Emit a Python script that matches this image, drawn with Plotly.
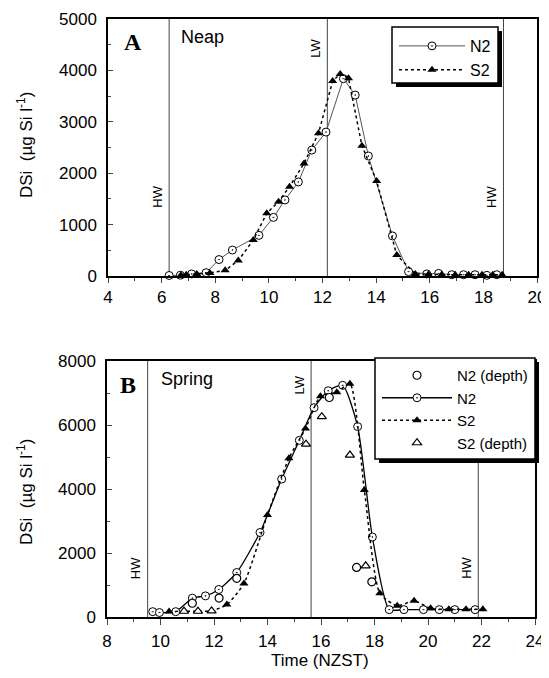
import plotly.graph_objects as go

# ---------------- Panel A (Neap) ----------------
a_n2_t = [6.28, 6.70, 7.12, 7.66, 8.14, 8.64, 9.63, 10.17, 10.60, 11.10, 11.60, 12.13,
          12.78, 13.22, 13.71, 14.61, 15.21, 15.89, 16.33, 16.82, 17.26, 17.69, 18.13, 18.50]
a_n2_y = [10, 15, 40, 65, 320, 505, 790, 1140, 1480, 1830, 2450, 2800,
          3840, 3520, 2335, 780, 85, 40, 50, 25, 25, 25, 13, 25]
a_s2_t = [6.72, 6.92, 7.31, 7.80, 8.37, 8.86, 9.42, 9.92, 10.36, 10.77, 11.31, 11.85,
          12.38, 12.66, 12.97, 13.47, 14.02, 14.77, 15.46, 15.95, 16.45, 16.95, 17.45,
          17.95, 18.35, 18.70]
a_s2_y = [15, 25, 40, 60, 110, 300, 700, 1220, 1446, 1738, 2190, 2776,
          3794, 3930, 3846, 2536, 1848, 408, 40, 30, 30, 25, 25, 25, 25, 25]
a_tide_t = [6.28, 12.18, 18.75]
a_tide_lbl = ["HW", "LW", "HW"]

# ---------------- Panel B (Spring) ----------------
b_n2_t = [9.71, 9.96, 10.57, 11.19, 11.68, 12.18, 12.85, 13.72, 14.53, 15.19, 15.74, 16.27,
          16.81, 17.37, 17.92, 18.55, 19.10, 19.83, 20.42, 21.00, 21.76]
b_n2_y = [167, 140, 167, 590, 660, 860, 1390, 2640, 4310, 5520, 6540, 7070,
          7240, 5950, 2500, 230, 230, 230, 230, 230, 230]
b_n2d_t = [11.19, 12.19, 12.85, 16.31, 17.33, 17.90]
b_n2d_y = [430, 590, 1210, 6860, 1550, 1100]
b_s2_t = [10.32, 10.88, 11.40, 11.91, 12.48, 13.12, 14.00, 14.80, 15.42, 15.98, 16.59, 17.08,
          17.62, 18.20, 18.85, 19.48, 20.10, 20.78, 21.42, 22.05]
b_s2_y = [170, 180, 180, 190, 390, 1050, 3190, 4960, 5890, 6900, 7020, 7290,
          3970, 740, 350, 505, 270, 240, 240, 240]
b_s2d_t = [10.88, 11.40, 11.91, 15.44, 16.03, 17.08, 17.67]
b_s2d_y = [180, 180, 190, 5400, 6260, 5060, 1600]
b_tide_t = [9.52, 15.63, 21.88]
b_tide_lbl = ["HW", "LW", "HW"]

# the page body has an 8 px margin, so the figure starts at (8, 8)
OFF = 8
W, H = 549 - OFF, 678 - 2 * OFF
FONT = "Liberation Sans"

def px_x(p):
    return (p - OFF) / W

def px_y(p):
    return 1 - (p - OFF) / H

fig = go.Figure()

# Panel A traces
fig.add_trace(go.Scatter(
    x=a_n2_t, y=a_n2_y, name="N2", mode="lines+markers", xaxis="x", yaxis="y",
    line=dict(color="#555555", width=1),
    marker=dict(symbol="circle-dot", size=8, color="white", line=dict(color="black", width=1)),
    cliponaxis=False, legend="legend"))
fig.add_trace(go.Scatter(
    x=a_s2_t, y=a_s2_y, name="S2", mode="lines+markers", xaxis="x", yaxis="y",
    line=dict(color="black", width=1.5, dash="dot"),
    marker=dict(symbol="triangle-up", size=8, color="black"),
    cliponaxis=False, legend="legend"))

# Panel B traces
fig.add_trace(go.Scatter(
    x=b_n2_t, y=b_n2_y, name="N2", mode="lines+markers", xaxis="x2", yaxis="y2",
    line=dict(color="black", width=1.3, shape="spline", smoothing=0.6),
    marker=dict(symbol="circle-dot", size=8, color="white", line=dict(color="black", width=1)),
    cliponaxis=False, legend="legend2", legendrank=2))
fig.add_trace(go.Scatter(
    x=b_s2_t, y=b_s2_y, name="S2", mode="lines+markers", xaxis="x2", yaxis="y2",
    line=dict(color="black", width=1.5, dash="dot", shape="spline", smoothing=0.6),
    marker=dict(symbol="triangle-up", size=8, color="black"),
    cliponaxis=False, legend="legend2", legendrank=3))
fig.add_trace(go.Scatter(
    x=b_n2d_t, y=b_n2d_y, name="N2 (depth)", mode="markers", xaxis="x2", yaxis="y2",
    marker=dict(symbol="circle", size=8, color="white", line=dict(color="black", width=1.2)),
    cliponaxis=False, legend="legend2", legendrank=1))
fig.add_trace(go.Scatter(
    x=b_s2d_t, y=b_s2d_y, name="S2 (depth)", mode="markers", xaxis="x2", yaxis="y2",
    marker=dict(symbol="triangle-up", size=8, color="white", line=dict(color="black", width=1.2)),
    cliponaxis=False, legend="legend2", legendrank=4))

axis_common = dict(showline=True, linecolor="black", linewidth=1.5, mirror=True,
                   showgrid=False, zeroline=False, automargin=False,
                   tickfont=dict(family=FONT, size=17, color="black"))

fig.update_layout(
    template="none",
    width=W, height=H, margin=dict(l=0, r=0, t=0, b=0, pad=0),
    paper_bgcolor="white", plot_bgcolor="white",
    font=dict(family=FONT, color="black"),
    xaxis=dict(domain=[px_x(108), px_x(537)], range=[4, 20], dtick=2, anchor="y",
               ticks="outside", ticklen=5, tickwidth=1.2,
               minor=dict(ticks="outside", dtick=1, ticklen=3, tickwidth=1), **axis_common),
    yaxis=dict(domain=[px_y(276), px_y(19)], range=[0, 5000], dtick=1000, anchor="x",
               ticks="inside", ticklen=5, tickwidth=1.2, ticklabelstandoff=6,
               minor=dict(ticks="inside", dtick=500, ticklen=3, tickwidth=1), **axis_common),
    xaxis2=dict(domain=[px_x(107), px_x(535)], range=[8, 24], dtick=2, anchor="y2",
                ticks="outside", ticklen=6, tickwidth=1.2, ticklabelstandoff=2,
                minor=dict(ticks="outside", dtick=1, ticklen=3, tickwidth=1), **axis_common),
    yaxis2=dict(domain=[px_y(617), px_y(361)], range=[0, 8000], dtick=2000, anchor="x2",
                ticks="inside", ticklen=5, tickwidth=1.2, ticklabelstandoff=6,
                minor=dict(ticks="inside", dtick=1000, ticklen=3, tickwidth=1), **axis_common),
    legend=dict(x=px_x(394), y=px_y(29), xanchor="left", yanchor="top",
                bgcolor="rgba(0,0,0,0)", borderwidth=0,
                font=dict(family=FONT, size=16, color="black"), itemwidth=66),
    legend2=dict(x=px_x(377), y=px_y(359), xanchor="left", yanchor="top",
                 bgcolor="rgba(0,0,0,0)", borderwidth=0,
                 font=dict(family=FONT, size=15, color="black"), itemwidth=70,
                 traceorder="normal"),
    showlegend=True,
)

shapes = []
annotations = []
for xr, yr, tt, lbls, lw_y, hw_y in [("x", "y", a_tide_t, a_tide_lbl, 48, 197),
                                      ("x2", "y2", b_tide_t, b_tide_lbl, 385, 568)]:
    for t, lbl in zip(tt, lbls):
        shapes.append(dict(type="line", xref=xr, yref=yr + " domain", x0=t, x1=t, y0=0, y1=1,
                           line=dict(color="#444444", width=1), layer="below"))
        annotations.append(dict(xref=xr, yref="paper", x=t, y=px_y(lw_y if lbl == "LW" else hw_y),
                                text=lbl, textangle=-90, showarrow=False, xanchor="right",
                                yanchor="middle", xshift=-3,
                                font=dict(family=FONT, size=13, color="black")))

# legend frames with drop shadows (offset down-right)
for (l, t, r, b) in [(392, 27, 498, 83), (375, 358, 535, 459)]:
    shapes.append(dict(type="rect", xref="paper", yref="paper",
                       x0=px_x(l + 4), x1=px_x(r + 4), y0=px_y(b + 4), y1=px_y(t + 4),
                       fillcolor="black", line=dict(width=0), layer="above"))
    shapes.append(dict(type="rect", xref="paper", yref="paper",
                       x0=px_x(l), x1=px_x(r), y0=px_y(b), y1=px_y(t),
                       fillcolor="white", line=dict(color="black", width=1.5), layer="above"))

def label(x, y, text, size, family=FONT, angle=0):
    return dict(xref="paper", yref="paper", x=px_x(x), y=px_y(y), text=text,
                showarrow=False, xanchor="center", yanchor="middle", textangle=angle,
                font=dict(family=family, size=size, color="black"))

annotations += [
    label(133, 42, "<b>A</b>", 24, "Liberation Serif"),
    label(202, 37, "Neap", 18),
    label(128, 385, "<b>B</b>", 24, "Liberation Serif"),
    label(187, 379, "Spring", 18),
    label(25, 145, "DSi  (µg Si l<sup>-1</sup>)", 17, angle=-90),
    label(25, 492, "DSi  (µg Si l<sup>-1</sup>)", 17, angle=-90),
    label(320, 660, "Time (NZST)", 17),
]

fig.update_layout(shapes=shapes, annotations=annotations)
fig.write_html("out.html")
